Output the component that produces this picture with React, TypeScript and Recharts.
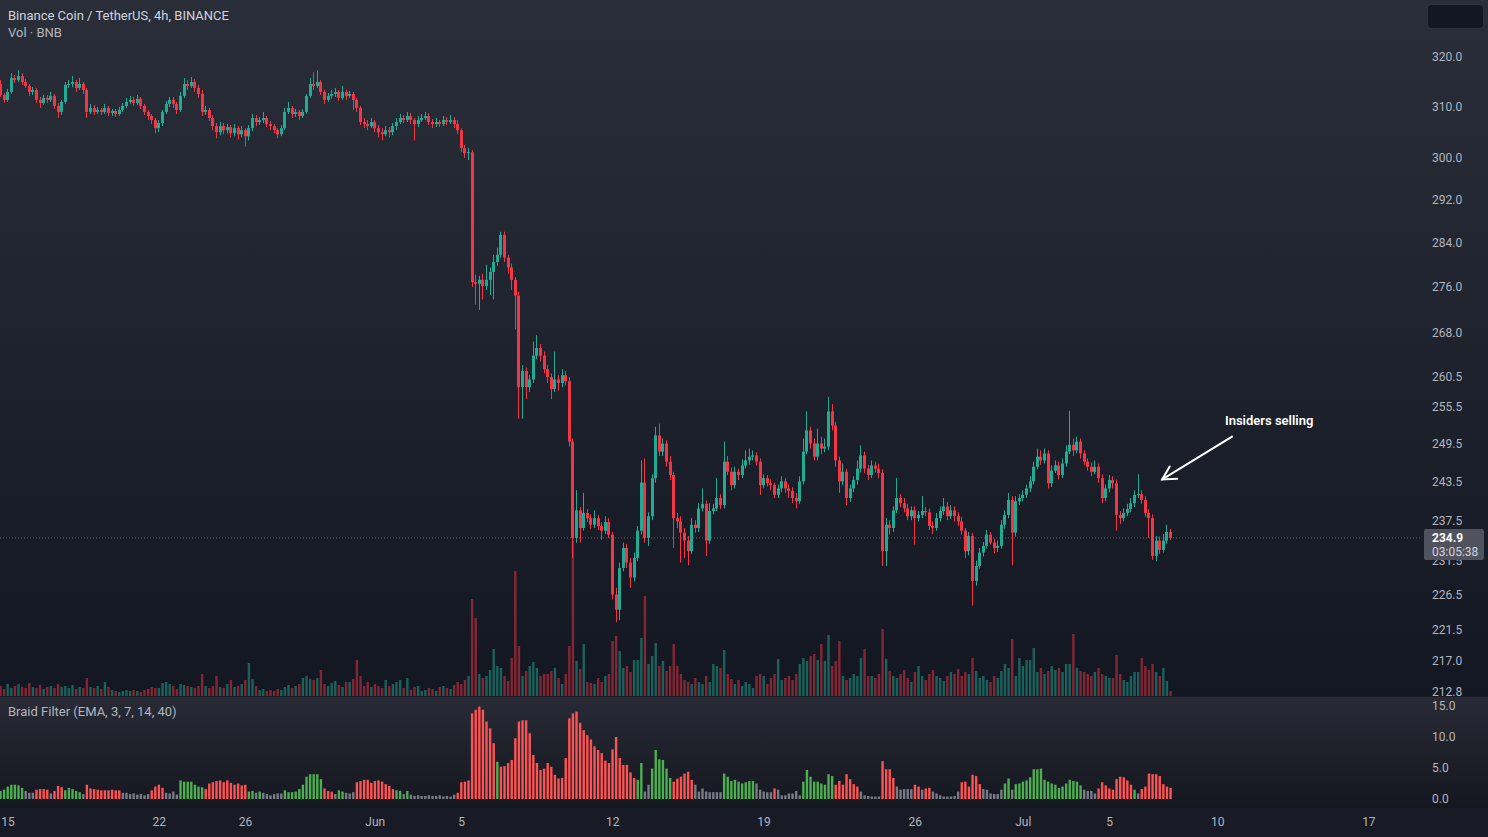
import React from "react";
import { ComposedChart, Bar, XAxis, YAxis, ReferenceLine, ReferenceDot } from "recharts";

// first candle = May 14 16:00, one row per 4h candle: [open, high, low, close]
const FIRST_INDEX = -2;
const ohlc: [number, number, number, number][] = [
  [314.5,315.3,311.9,312.3],[312.3,312.7,310.7,311.3],[311.3,313.5,310.9,312.9],[312.9,316.7,312.5,315.7],[315.7,316.3,314.7,315.3],
  [315.3,317.3,314.9,316.1],[316.1,316.7,314.3,314.9],[314.9,315.5,313.7,314.1],[314.1,314.5,312.1,312.9],[312.9,313.9,312.3,313.3],
  [313.3,313.7,310.7,311.3],[311.3,311.9,309.7,310.7],[310.7,312.3,310.3,311.7],[311.7,312.3,310.7,311.3],[311.3,312.9,310.9,312.1],
  [312.1,312.5,309.5,310.1],[310.1,310.7,307.7,308.9],[308.9,311.3,308.3,310.9],[310.9,314.9,310.5,314.3],[314.3,315.3,313.7,314.5],
  [314.5,316.1,313.9,314.9],[314.9,315.3,312.9,313.7],[313.7,315.7,313.3,314.5],[314.5,314.9,312.5,313.3],[313.3,313.7,307.7,308.9],
  [308.9,310.5,308.5,309.7],[309.7,310.3,308.3,308.9],[308.9,309.9,308.5,309.3],[309.3,309.7,308.3,308.9],[308.9,310.5,308.5,309.7],
  [309.7,310.1,308.1,308.7],[308.7,309.5,308.1,309.1],[309.1,309.5,307.9,308.5],[308.5,309.9,308.1,309.3],[309.3,310.7,308.9,310.1],
  [310.1,311.7,309.7,310.9],[310.9,312.1,310.5,311.3],[311.3,311.9,310.1,310.7],[310.7,312.3,310.3,311.5],[311.5,311.9,309.5,310.1],
  [310.1,310.5,308.3,308.9],[308.9,309.3,307.3,308.1],[308.1,308.5,306.5,307.3],[307.3,307.7,304.7,305.7],[305.7,307.3,304.9,306.7],
  [306.7,309.3,306.1,308.9],[308.9,311.1,308.5,310.5],[310.5,311.9,309.9,311.3],[311.3,311.9,309.7,310.5],[310.5,310.9,308.5,309.3],
  [309.3,312.9,308.9,312.1],[312.1,315.7,311.7,314.5],[314.5,315.3,313.3,314.1],[314.1,315.9,313.7,314.9],[314.9,315.5,312.9,313.7],
  [313.7,314.3,311.7,312.5],[312.5,313.3,308.1,308.9],[308.9,310.1,308.3,309.3],[309.3,309.7,307.1,307.7],[307.7,308.3,305.3,306.1],
  [306.1,306.7,303.7,304.9],[304.9,306.9,304.3,306.1],[306.1,306.7,304.5,305.3],[305.3,306.5,304.7,305.9],[305.9,306.3,303.9,304.7],
  [304.7,306.5,304.1,305.7],[305.7,306.1,303.5,304.5],[304.5,306.1,303.9,305.3],[305.3,305.7,302.1,304.1],[304.1,306.3,303.3,305.7],
  [305.7,308.5,305.1,307.7],[307.7,308.3,306.1,306.9],[306.9,307.9,306.3,307.3],[307.3,308.9,306.7,307.7],[307.7,308.1,305.9,306.5],
  [306.5,307.1,305.3,306.1],[306.1,306.5,304.7,305.3],[305.3,305.7,303.7,304.5],[304.5,306.3,304.1,305.7],[305.7,309.7,305.3,308.9],
  [308.9,310.9,308.5,309.7],[309.7,310.1,307.7,308.5],[308.5,309.5,307.9,308.9],[308.9,309.3,307.3,308.1],[308.1,309.5,307.7,308.9],
  [308.9,312.5,308.5,312.1],[312.1,315.7,311.7,314.5],[314.5,316.9,313.3,314.1],[314.1,317.3,313.7,314.9],[314.9,315.3,312.3,312.9],
  [312.9,313.3,310.5,311.3],[311.3,312.7,310.9,312.1],[312.1,313.3,311.5,312.5],[312.5,313.7,311.9,312.9],[312.9,313.3,311.1,311.7],
  [311.7,314.1,311.3,312.9],[312.9,313.3,311.3,312.1],[312.1,313.1,311.7,312.5],[312.5,312.9,309.3,311.3],[311.3,311.7,308.9,309.7],
  [309.7,310.1,306.3,306.9],[306.9,307.7,305.7,306.5],[306.5,307.3,305.3,306.1],[306.1,307.7,305.7,306.9],[306.9,307.3,304.9,305.7],
  [305.7,306.3,303.9,304.9],[304.9,305.7,303.3,304.5],[304.5,306.1,304.1,305.3],[305.3,305.9,303.9,304.9],[304.9,306.7,304.3,306.1],
  [306.1,307.7,305.3,306.9],[306.9,308.5,306.5,307.7],[307.7,308.3,306.7,307.3],[307.3,308.9,306.9,308.1],[308.1,308.7,306.5,307.3],
  [307.3,307.7,303.3,306.5],[306.5,308.1,305.9,307.3],[307.3,308.5,306.9,307.7],[307.7,308.9,307.3,308.1],[308.1,308.7,306.3,306.9],
  [306.9,307.5,305.7,306.5],[306.5,307.7,305.9,306.9],[306.9,307.3,305.9,306.5],[306.5,308.1,306.1,307.3],[307.3,307.9,306.3,306.9],
  [306.9,308.3,306.5,307.3],[307.3,307.9,305.7,306.5],[306.5,307.3,304.5,305.3],[305.3,305.7,301.0,301.8],[301.8,302.4,299.9,300.8],
  [300.8,301.8,299.5,301.0],[301.0,301.4,276.0,276.9],[276.9,278.2,272.9,276.6],[276.6,278.0,272.0,277.3],[277.3,278.4,273.8,276.2],
  [276.2,280.0,275.5,277.3],[277.3,279.5,274.6,278.7],[278.7,281.8,273.8,280.5],[280.5,283.1,279.8,281.8],[281.8,286.0,281.3,285.4],
  [285.4,286.0,280.5,281.3],[281.3,281.8,278.4,279.5],[279.5,280.2,275.5,277.3],[277.3,277.8,268.6,274.5],[274.5,275.2,253.6,258.8],
  [258.8,262.5,253.6,261.5],[261.5,262.1,256.8,258.8],[258.8,260.8,258.0,260.1],[260.1,266.5,259.5,264.1],[264.1,267.6,263.5,265.4],
  [265.4,266.1,263.1,264.1],[264.1,264.8,261.1,261.8],[261.8,262.5,259.5,260.5],[260.5,261.1,256.8,258.5],[258.5,264.8,258.0,260.1],
  [260.1,260.8,258.2,259.5],[259.5,261.8,258.8,260.8],[260.8,261.5,259.1,259.8],[259.8,260.5,249.1,249.9],[249.9,250.4,231.9,234.9],
  [234.9,242.2,234.2,239.1],[239.1,239.6,234.2,236.4],[236.4,241.8,236.0,238.7],[238.7,239.3,237.3,237.9],[237.9,238.5,236.3,236.9],
  [236.9,239.1,236.4,237.9],[237.9,238.4,236.1,236.7],[236.7,237.3,234.6,236.0],[236.0,238.2,235.5,237.3],[237.3,237.9,234.9,235.4],
  [235.4,235.8,225.8,226.5],[226.5,227.5,222.5,224.3],[224.3,231.2,222.8,230.4],[230.4,234.2,229.9,233.4],[233.4,234.0,230.4,231.2],
  [231.2,231.9,227.5,229.0],[229.0,232.7,228.4,231.9],[231.9,236.7,231.4,236.0],[236.0,246.9,235.4,243.4],[243.4,247.2,234.2,234.9],
  [234.9,238.8,233.7,238.2],[238.2,244.7,237.6,244.1],[244.1,252.3,243.4,250.9],[250.9,252.8,247.6,248.3],[248.3,250.4,247.6,249.6],
  [249.6,250.1,245.9,246.7],[246.7,247.6,243.8,244.6],[244.6,245.1,233.4,237.9],[237.9,238.7,236.4,237.4],[237.4,238.2,231.2,235.7],
  [235.7,236.4,231.9,234.5],[234.5,235.2,230.8,232.9],[232.9,237.9,232.5,236.9],[236.9,237.6,235.7,236.4],[236.4,240.2,235.8,239.4],
  [239.4,242.5,238.9,240.1],[240.1,240.6,232.2,234.5],[234.5,240.2,234.0,239.0],[239.0,240.1,238.5,239.4],[239.4,244.1,239.0,241.0],
  [241.0,241.6,239.3,239.9],[239.9,249.9,239.4,246.7],[246.7,247.6,244.6,245.1],[245.1,245.8,242.2,243.0],[243.0,245.9,242.5,245.1],
  [245.1,245.6,243.8,244.6],[244.6,247.1,244.1,246.1],[246.1,248.5,245.6,246.9],[246.9,248.8,246.2,247.5],[247.5,248.5,246.9,247.7],
  [247.7,248.2,246.1,246.7],[246.7,247.2,241.5,243.0],[243.0,244.7,242.5,244.1],[244.1,244.6,242.8,243.3],[243.3,243.9,242.2,243.0],
  [243.0,243.4,241.0,241.5],[241.5,243.1,241.0,242.5],[242.5,244.4,241.9,243.6],[243.6,244.1,241.8,242.5],[242.5,243.1,241.0,242.1],
  [242.1,242.7,240.2,241.0],[241.0,241.8,239.4,240.5],[240.5,244.4,240.1,243.6],[243.6,250.4,243.1,248.3],[248.3,254.8,247.9,251.7],
  [251.7,252.3,248.8,249.6],[249.6,250.4,246.9,247.5],[247.5,252.0,246.9,249.6],[249.6,250.7,247.9,248.8],[248.8,250.4,248.2,249.1],
  [249.1,257.2,248.5,254.8],[254.8,256.0,251.7,252.5],[252.5,253.1,245.9,246.9],[246.9,247.5,241.8,243.6],[243.6,246.4,243.0,245.1],
  [245.1,245.6,239.9,241.0],[241.0,243.1,240.4,242.5],[242.5,244.4,241.9,243.8],[243.8,246.9,243.1,245.6],[245.6,249.3,245.0,247.7],
  [247.7,248.3,244.9,245.6],[245.6,246.2,243.8,244.6],[244.6,246.9,244.1,246.1],[246.1,246.7,245.0,245.6],[245.6,246.4,244.1,244.9],
  [244.9,245.5,230.7,232.9],[232.9,237.9,230.7,236.9],[236.9,237.6,235.4,236.4],[236.4,239.7,235.8,239.1],[239.1,244.1,238.7,241.0],
  [241.0,241.6,239.6,240.2],[240.2,241.0,238.8,239.4],[239.4,240.1,237.6,238.2],[238.2,239.7,237.6,239.1],[239.1,239.7,233.9,237.9],
  [237.9,239.0,237.4,238.4],[238.4,241.3,237.9,239.0],[239.0,239.6,238.2,238.8],[238.8,239.4,236.1,236.7],[236.7,237.4,235.5,236.4],
  [236.4,238.7,236.0,237.9],[237.9,239.7,237.4,239.0],[239.0,241.0,238.4,239.7],[239.7,240.4,237.6,238.2],[238.2,239.9,237.8,239.1],
  [239.1,239.7,237.4,238.2],[238.2,238.8,236.7,237.4],[237.4,238.1,235.4,236.0],[236.0,236.4,231.9,232.9],[232.9,235.8,232.3,235.2],
  [235.2,235.7,224.9,228.5],[228.5,231.5,227.8,230.7],[230.7,233.4,230.3,232.7],[232.7,234.3,232.1,233.7],[233.7,236.1,233.3,235.4],
  [235.4,235.8,233.9,234.2],[234.2,234.8,232.6,233.4],[233.4,234.5,232.8,233.7],[233.7,237.6,233.3,236.9],[236.9,239.1,236.3,238.4],
  [238.4,241.8,237.9,240.7],[240.7,241.3,230.8,235.7],[235.7,241.3,235.1,240.5],[240.5,241.6,239.9,241.0],[241.0,242.2,240.5,241.5],
  [241.5,243.1,241.0,242.5],[242.5,244.4,241.9,243.6],[243.6,246.7,243.1,245.9],[245.9,248.8,245.5,247.5],[247.5,248.5,246.2,246.9],
  [246.9,248.8,246.4,248.0],[248.0,248.5,242.5,243.3],[243.3,246.1,242.7,245.3],[245.3,246.9,244.9,246.1],[246.1,246.7,243.9,244.6],
  [244.6,247.2,244.1,246.4],[246.4,249.3,245.9,248.3],[248.3,254.9,247.9,249.4],[249.4,250.4,247.6,248.5],[248.5,250.7,248.0,249.9],
  [249.9,250.4,247.2,248.0],[248.0,248.5,246.2,246.7],[246.7,247.2,245.3,245.9],[245.9,246.6,244.4,245.1],[245.1,246.9,244.7,245.9],
  [245.9,246.4,243.4,244.1],[244.1,244.7,240.2,241.0],[241.0,243.1,240.5,242.5],[242.5,244.6,241.9,243.8],[243.8,244.4,242.5,243.3],
  [243.3,243.9,236.0,238.4],[238.4,239.0,237.0,237.9],[237.9,239.4,237.4,238.7],[238.7,240.1,238.2,239.3],[239.3,241.0,238.8,240.2],
  [240.2,242.2,239.6,241.5],[241.5,244.7,241.0,241.6],[241.6,242.2,240.1,240.7],[240.7,241.3,238.1,238.7],[238.7,239.3,234.9,237.9],
  [237.9,238.5,231.6,232.2],[232.2,235.2,231.4,234.5],[234.5,235.1,232.5,233.1],[233.1,235.5,232.7,234.5],[234.5,236.9,234.0,235.8],
  [235.8,236.3,234.6,234.9],
];

// volume, thousand BNB
const volumes = [
  10,7,12,8,10,12,9,8,13,9, 8,11,7,9,10,8,12,9,10,8, 11,7,9,8,18,9,8,10,7,14, 9,6,5,4,5,6,5,6,5,4,
  6,7,9,8,8,13,14,12,10,7, 12,11,10,9,8,10,22,10,8,10, 20,9,8,12,16,9,10,12,16,33, 17,10,6,7,5,6,5,7,6,9,
  11,8,10,12,18,20,17,16,18,26, 12,10,13,15,11,9,14,14,17,36, 20,10,14,9,12,10,8,16,10,12, 14,16,8,18,6,9,10,5,6,8,
  7,5,9,10,8,7,11,14,12,16, 20,97,78,22,18,20,26,47,30,28, 20,15,38,125,50,20,25,30,34,28, 20,22,22,25,28,18,12,22,50,155,
  35,27,52,14,13,12,18,14,20,22, 55,60,45,28,30,24,36,36,58,100, 32,40,53,30,35,25,30,52,30,22, 16,14,12,18,14,12,20,14,32,30,
  28,46,22,17,12,16,10,14,12,8, 20,22,20,12,18,22,37,16,18,20, 16,22,32,38,35,40,42,36,52,35, 61,30,35,55,20,16,18,22,20,38,
  47,20,20,18,22,67,37,25,20,18, 22,26,18,14,24,30,20,16,22,26, 20,18,15,20,24,22,27,20,24,22, 38,25,18,20,16,14,20,18,25,32,
  28,57,20,38,30,36,36,48,24,28, 22,25,30,26,28,24,32,32,62,28, 25,24,22,20,24,28,22,20,18,18, 41,22,16,14,20,24,24,38,30,26,
  32,24,20,28,15,5,
];

// Braid Filter (EMA, 3, 7, 14, 40)
const braid = [
  1.3,1.5,2.0,2.3,2.3,2.2,1.8,1.3,1.0,1.0, 1.5,1.6,1.6,1.5,0.9,1.3,2.1,1.9,1.4,1.8, 1.6,1.3,1.1,0.8,2.3,1.7,1.6,1.5,1.4,1.4,
  1.4,1.5,1.4,1.4,1.0,1.0,0.8,0.9,0.7,0.8, 0.6,0.8,1.4,2.0,2.3,1.8,1.0,0.9,1.2,0.7, 3.0,2.8,2.8,2.8,2.3,2.0,1.9,1.6,2.5,2.7,
  2.9,3.0,2.7,3.0,2.6,2.3,2.5,2.2,2.3,1.2, 1.3,1.0,1.2,1.0,0.8,0.6,0.8,0.9,0.9,1.4, 1.1,1.1,1.2,1.6,2.3,3.6,4.0,4.0,4.0,3.2,
  1.7,1.3,1.2,0.8,1.4,1.2,1.0,0.9,1.1,2.7, 2.9,3.1,3.1,2.6,2.9,3.0,2.8,2.4,2.1,1.6, 1.4,1.3,0.8,1.3,0.7,0.5,0.6,0.5,0.5,0.6,
  0.5,0.5,0.6,0.4,0.5,0.4,0.7,1.0,2.7,2.8, 3.0,13.8,14.4,14.9,14.4,12.5,11.4,9.0,6.0,5.2, 5.3,5.8,6.3,9.8,12.5,12.7,12.7,10.6,7.1,5.8,
  4.7,4.9,5.8,5.2,3.9,3.3,3.4,6.6,13.0,13.8, 14.1,12.3,11.1,10.3,9.6,8.5,7.9,7.4,6.2,5.8, 8.0,10.0,6.6,5.5,5.5,4.3,3.4,3.1,5.8,1.2,
  2.3,4.9,7.9,6.4,6.3,4.9,3.4,2.8,3.3,3.6, 4.1,4.4,3.1,2.3,1.2,1.7,1.2,1.1,1.1,1.1, 1.1,4.1,3.6,2.9,3.1,2.8,2.5,2.7,2.9,2.9,
  2.5,1.5,1.2,1.1,1.1,1.7,1.5,0.6,0.6,0.9, 0.9,1.3,0.6,2.8,4.7,3.6,2.8,2.8,2.5,2.3, 4.0,3.7,2.3,2.9,2.3,4.0,3.2,2.4,2.0,1.2,
  0.6,0.5,0.4,0.4,0.4,6.1,4.8,4.8,3.4,2.0, 1.5,1.6,1.6,1.6,2.3,2.0,1.5,1.7,1.8,1.2, 0.9,0.6,0.4,0.4,0.4,0.5,1.2,2.7,2.8,2.0,
  3.9,3.7,2.4,1.6,1.5,0.9,0.8,0.8,1.5,2.5, 3.3,1.5,2.4,2.5,2.8,3.0,3.5,4.8,4.8,4.9, 3.1,2.8,2.5,2.3,1.8,2.0,2.5,3.1,2.9,2.8,
  2.2,1.5,1.3,1.3,0.9,1.7,2.7,2.2,1.7,1.5, 3.2,3.6,3.5,3.0,2.3,1.5,0.9,1.6,2.0,4.1, 4.0,4.0,3.7,2.4,2.0,1.8,
];
// u = up (green), d = down (red), n = neutral (gray)
const braidTrend =
  "uuuuuuunnn" + "ddddnddduu" + "uuundddddd" + "ddddnnnnnn" + "nnddddnnnn" + "uuuuuuuddd" + "dddddddddu" + "ununnnnnnu" +
  "uuuuuuuuuu" + "dddnuunnnd" + "dddddddddd" + "uununnnnnn" + "nnnnnnnddd" + "ddddddddud" + "dddddddddd" + "dddddddddd" +
  "dddddddddd" + "ddddddduun" + "nuuuuuuddd" + "dddnnnnnnn" + "nuuuuuuuuu" + "nnnnndnnnn" + "nnnuuuuuuu" + "uudddddddn" +
  "nnnnnddddn" + "nnnnddnddn" + "nnnnnnnddd" + "dddnnnnnnu" + "unuuuuuuuu" + "uuuuuuuuuu" + "unnnnddddd" + "dddddunddd" +
  "dddddd";

const priceTicks = [320, 310, 300, 292, 284, 276, 268, 260.5, 255.5, 249.5, 243.5, 237.5, 231.5, 226.5, 221.5, 217, 212.8];
const braidTicks = [0, 5, 10, 15];
const dateTicks = [0, 42, 66, 102, 126, 168, 210, 252, 282, 306, 336, 378];
const dateLabels = ["15", "22", "26", "Jun", "5", "12", "19", "26", "Jul", "5", "10", "17"];
const lastPrice = 234.9;
const countdown = "03:05:38";

const UP = "#22ab94";
const DOWN = "#f23645";
const TEXT = "#b2b5be";
const FONT = "Roboto, 'Noto Sans', Arial, sans-serif";
const W = 1488;
const AXIS_W = 68;
const MAIN_H = 696;
const X_DOMAIN: [number, number] = [-2.22, 392.2];
const PRICE_DOMAIN: [number, number] = [212.2, 331.95];

const rows = ohlc.map(([o, h, l, c], k) => ({
  i: FIRST_INDEX + k,
  o, h, l, c,
  range: [l, h],
  vol: volumes[k],
  braid: braid[k],
  trend: braidTrend[k],
}));

const Candle = (props: any) => {
  const { x, y, width, height, payload } = props;
  if (x == null || !payload) return null;
  const top = Math.min(y, y + height);
  const bot = Math.max(y, y + height);
  const { o, h, l, c } = payload;
  const lh = Math.log(h);
  const span = lh - Math.log(l) || 1;
  const py = (v: number) => top + ((lh - Math.log(v)) / span) * (bot - top);
  const color = c >= o ? UP : DOWN;
  const bx = Math.round(x + width / 2 - 1.5);
  const y1 = py(Math.max(o, c));
  const y2 = py(Math.min(o, c));
  return (
    <g>
      <line x1={bx + 1.5} x2={bx + 1.5} y1={top} y2={bot} stroke={color} strokeWidth={1} />
      <rect x={bx} y={y1} width={3} height={Math.max(1, y2 - y1)} fill={color} />
    </g>
  );
};

const VolumeBar = (props: any) => {
  const { x, y, width, height, payload } = props;
  if (x == null || !payload) return null;
  const color = payload.c >= payload.o ? "rgba(34,171,148,0.5)" : "rgba(242,54,69,0.5)";
  return <rect x={x + width / 2 - 1.2} y={y} width={2.4} height={height} fill={color} />;
};

const trendColor: Record<string, string> = { u: "#4caf50", d: "#ff5252", n: "#787b86" };

const BraidBar = (props: any) => {
  const { x, y, width, height, payload } = props;
  if (x == null || !payload) return null;
  return <rect x={x + width / 2 - 1.2} y={y} width={2.4} height={height} fill={trendColor[payload.trend]} />;
};

const PriceTag = (props: any) => {
  const vb = props.viewBox;
  if (!vb) return null;
  const x = vb.x + vb.width;
  const y = vb.y;
  return (
    <g style={{ fontFamily: FONT }}>
      <rect x={x + 4} y={y - 9} width={60} height={31} fill="#50535e" rx={2} />
      <text x={x + 12} y={y} dy="0.35em" fill="#ffffff" fontSize={12} fontWeight={700}>
        {lastPrice.toFixed(1)}
      </text>
      <text x={x + 12} y={y + 14} dy="0.35em" fill="#d1d4dc" fontSize={12}>
        {countdown}
      </text>
    </g>
  );
};

const Arrow = (props: any) => {
  const { x1, y1, x2, y2 } = props;
  if (x1 == null) return null;
  const ang = Math.atan2(y2 - y1, x2 - x1);
  const len = 15;
  const a1 = ang + Math.PI - 0.5;
  const a2 = ang + Math.PI + 0.5;
  const pts = `${x2 + len * Math.cos(a1)},${y2 + len * Math.sin(a1)} ${x2},${y2} ${x2 + len * Math.cos(a2)},${y2 + len * Math.sin(a2)}`;
  return (
    <g stroke="#ffffff" strokeWidth={2} strokeLinecap="round" fill="none">
      <line x1={x1} y1={y1} x2={x2} y2={y2} />
      <polyline points={pts} />
    </g>
  );
};

const NoteText = (props: any) => (
  <text x={props.cx} y={props.cy} dy="0.35em" textAnchor="middle" fill="#ffffff" fontSize={13} fontWeight={600} style={{ fontFamily: FONT }}>
    Insiders selling
  </text>
);

const layer: React.CSSProperties = { position: "absolute", left: 0, top: 0 };
const label: React.CSSProperties = { position: "absolute", left: 8, fontSize: 13, lineHeight: "16px", color: TEXT };

export default function App() {
  return (
    <div style={{ position: "absolute", left: 0, top: 0, width: W, height: 837, overflow: "hidden", fontFamily: FONT, background: "#181b25" }}>
      <div style={{ ...layer, width: W, height: MAIN_H, background: "linear-gradient(180deg, #2a2e39 0%, #131722 100%)" }} />

      <div style={layer}>
        <ComposedChart width={W} height={MAIN_H} data={rows} margin={{ top: 0, right: AXIS_W, bottom: 0, left: 0 }}>
          <XAxis dataKey="i" type="number" domain={X_DOMAIN} allowDataOverflow hide />
          <YAxis domain={[0, MAIN_H]} allowDataOverflow hide />
          <Bar dataKey="vol" barSize={3} shape={VolumeBar} isAnimationActive={false} />
        </ComposedChart>
      </div>

      <div style={layer}>
        <ComposedChart width={W} height={MAIN_H} data={rows} margin={{ top: 0, right: 0, bottom: 0, left: 0 }}>
          <XAxis dataKey="i" type="number" domain={X_DOMAIN} allowDataOverflow hide />
          <YAxis
            orientation="right"
            width={AXIS_W}
            scale="log"
            domain={PRICE_DOMAIN}
            allowDataOverflow
            ticks={priceTicks}
            interval={0}
            tickFormatter={(v: number) => v.toFixed(1)}
            axisLine={false}
            tickLine={false}
            tickMargin={6}
            tick={{ fill: TEXT, fontSize: 12 }}
          />
          <ReferenceLine y={lastPrice} stroke="rgba(120,123,134,0.7)" strokeDasharray="1 2" />
          <Bar dataKey="range" barSize={3} shape={Candle} isAnimationActive={false} />
          <ReferenceLine segment={[{ x: 340.0, y: 250.7 }, { x: 320.6, y: 243.9 }]} ifOverflow="visible" shape={Arrow} />
          <ReferenceDot x={350.3} y={253.3} r={0} ifOverflow="visible" shape={NoteText} />
        </ComposedChart>
      </div>

      {/* last-price tag drawn above the price axis labels */}
      <div style={layer}>
        <ComposedChart width={W} height={MAIN_H} data={rows} margin={{ top: 0, right: AXIS_W, bottom: 0, left: 0 }}>
          <XAxis dataKey="i" type="number" domain={X_DOMAIN} allowDataOverflow hide />
          <YAxis scale="log" domain={PRICE_DOMAIN} allowDataOverflow hide />
          <ReferenceLine y={lastPrice} stroke="none" label={<PriceTag />} />
        </ComposedChart>
      </div>

      <div style={{ ...layer, top: 697, width: W, height: 111, background: "linear-gradient(180deg, #282b35 0%, #14171f 100%)" }} />
      <div style={{ ...layer, top: 697 }}>
        <ComposedChart width={W} height={140} data={rows} margin={{ top: 9, right: 0, bottom: 0, left: 0 }}>
          <XAxis
            dataKey="i"
            type="number"
            domain={X_DOMAIN}
            allowDataOverflow
            ticks={dateTicks}
            interval={0}
            tickFormatter={(v: number) => dateLabels[dateTicks.indexOf(v)] ?? ""}
            height={38}
            axisLine={false}
            tickLine={false}
            tickMargin={12}
            tick={{ fill: TEXT, fontSize: 12 }}
          />
          <YAxis
            orientation="right"
            width={AXIS_W}
            domain={[0, 15]}
            ticks={braidTicks}
            interval={0}
            tickFormatter={(v: number) => v.toFixed(1)}
            axisLine={false}
            tickLine={false}
            tickMargin={6}
            tick={{ fill: TEXT, fontSize: 12 }}
          />
          <Bar dataKey="braid" barSize={3} shape={BraidBar} isAnimationActive={false} />
        </ComposedChart>
      </div>

      <div style={{ ...label, top: 8, color: "#d1d4dc" }}>Binance Coin / TetherUS, 4h, BINANCE</div>
      <div style={{ ...label, top: 25 }}>Vol · BNB</div>
      <div style={{ ...label, top: 704 }}>Braid Filter (EMA, 3, 7, 14, 40)</div>
      <div style={{ position: "absolute", left: 1427, top: 4, width: 55, height: 23, background: "#131722", border: "1px solid #2f3241", borderRadius: 4 }} />
    </div>
  );
}
